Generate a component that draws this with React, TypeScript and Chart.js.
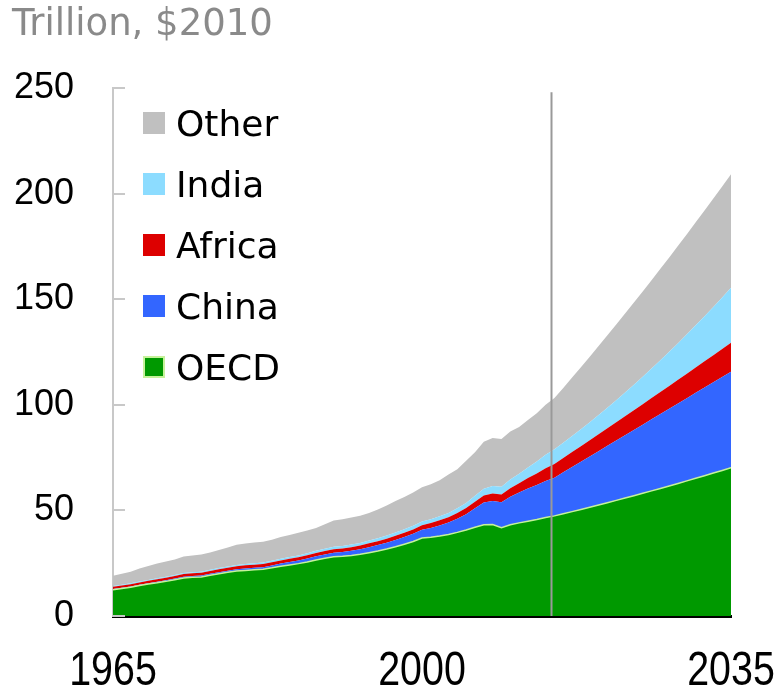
import { useEffect, useRef } from "react";
import { Chart, registerables } from "chart.js";

Chart.register(...registerables);

// ---- data (trillion, $2010) ----
const years = [
  1965, 1966, 1967, 1968, 1969, 1970, 1971, 1972, 1973, 1974, 1975,
  1976, 1977, 1978, 1979, 1980, 1981, 1982, 1983, 1984, 1985,
  1986, 1987, 1988, 1989, 1990, 1991, 1992, 1993, 1994, 1995,
  1996, 1997, 1998, 1999, 2000, 2001, 2002, 2003, 2004, 2005,
  2006, 2007, 2008, 2009, 2010, 2011, 2012, 2013, 2014, 2015,
  2016, 2017, 2018, 2019, 2020, 2021, 2022, 2023, 2024, 2025,
  2026, 2027, 2028, 2029, 2030, 2031, 2032, 2033, 2034, 2035,
];

const oecd = [
  12.4, 13.0, 13.6, 14.4, 15.1, 15.7, 16.4, 17.2, 18.0, 18.3, 18.5,
  19.3, 20.0, 20.7, 21.3, 21.6, 21.9, 22.1, 22.8, 23.6, 24.2,
  24.8, 25.6, 26.5, 27.3, 28.0, 28.3, 28.7, 29.2, 30.0, 30.8,
  31.7, 32.8, 34.0, 35.3, 36.9, 37.3, 37.9, 38.6, 39.6, 40.7,
  42.0, 43.2, 43.3, 41.8, 43.2, 44.1, 44.9, 45.7, 46.6, 47.4,
  48.41, 49.43, 50.46, 51.51, 52.58, 53.65, 54.74, 55.85, 56.97, 58.1,
  59.25, 60.41, 61.58, 62.77, 63.98, 65.19, 66.42, 67.67, 68.93, 70.2,
];

const china = [
  0.4, 0.4, 0.4, 0.4, 0.45, 0.5, 0.5, 0.55, 0.6, 0.6, 0.65,
  0.65, 0.7, 0.75, 0.8, 0.9, 0.9, 1.0, 1.1, 1.2, 1.35,
  1.45, 1.6, 1.75, 1.8, 1.9, 2.0, 2.2, 2.4, 2.6, 2.8,
  3.0, 3.2, 3.4, 3.6, 3.9, 4.4, 5.0, 5.7, 6.5, 7.5,
  9.0, 10.5, 11.2, 12.0, 13.3, 14.4, 15.5, 16.3, 17.3, 18.1,
  19.6, 21.09, 22.57, 24.03, 25.48, 26.91, 28.33, 29.73, 31.12, 32.5,
  33.86, 35.21, 36.55, 37.87, 39.18, 40.47, 41.75, 43.01, 44.26, 45.5,
];

const africa = [
  1.0, 1.0, 1.05, 1.1, 1.1, 1.15, 1.2, 1.2, 1.25, 1.3, 1.3,
  1.35, 1.4, 1.4, 1.45, 1.5, 1.5, 1.5, 1.5, 1.5, 1.55,
  1.55, 1.6, 1.6, 1.65, 1.7, 1.7, 1.7, 1.75, 1.8, 1.85,
  1.9, 2.0, 2.05, 2.1, 2.2, 2.3, 2.4, 2.5, 2.7, 2.9,
  3.1, 3.3, 3.5, 3.7, 4.0, 4.4, 4.9, 5.5, 6.1, 6.5,
  6.78, 7.08, 7.38, 7.68, 8.0, 8.32, 8.66, 9.0, 9.34, 9.7,
  10.06, 10.44, 10.82, 11.2, 11.6, 12.0, 12.42, 12.84, 13.26, 13.7,
];

const india = [
  0.4, 0.4, 0.42, 0.43, 0.45, 0.47, 0.48, 0.48, 0.5, 0.5, 0.55,
  0.56, 0.58, 0.62, 0.62, 0.65, 0.7, 0.72, 0.77, 0.8, 0.85,
  0.9, 0.94, 1.02, 1.08, 1.14, 1.15, 1.2, 1.26, 1.33, 1.4,
  1.48, 1.54, 1.6, 1.7, 1.75, 1.8, 1.9, 2.0, 2.2, 2.4,
  2.8, 3.3, 3.5, 3.7, 4.1, 4.5, 5.0, 5.6, 6.3, 7.0,
  7.29, 7.64, 8.07, 8.56, 9.13, 9.76, 10.47, 11.24, 12.09, 13.0,
  13.99, 15.04, 16.17, 17.36, 18.63, 19.96, 21.37, 22.84, 24.39, 26.0,
];

const other = [
  4.8, 5.2, 5.53, 6.17, 6.6, 6.98, 7.22, 7.37, 7.85, 8.0, 8.1,
  8.24, 8.52, 8.93, 9.53, 9.65, 9.8, 9.88, 9.93, 10.3, 10.45,
  10.7, 10.76, 10.83, 11.57, 12.46, 12.65, 12.8, 12.89, 13.07, 13.55,
  14.22, 14.96, 15.25, 15.8, 16.25, 16.6, 17.1, 18.2, 18.5, 20.0,
  20.6, 22.2, 22.8, 22.6, 22.7, 22.1, 22.5, 22.9, 23.7, 24.2,
  25.92, 27.66, 29.32, 31.02, 32.61, 34.26, 35.8, 37.38, 38.88, 40.4,
  41.84, 43.3, 44.68, 46.1, 47.41, 48.78, 50.04, 51.34, 52.56, 53.8,
];

const seriesLabels = ["OECD", "China", "Africa", "India", "Other"];
const seriesValues = [oecd, china, africa, india, other];
const seriesColors = ["#009900", "#3366ff", "#dd0000", "#8cdcff", "#c0c0c0"];

const xTickValues = [1965, 2000, 2035];
const yMin = 0;
const yMax = 250;
const yStep = 50;
const unitLabel = "Trillion, $2010";
const markerYear = 2014.6; // outlook divider
const markerTop = 248;

const W = 779;
const H = 687;

const overlay = {
  id: "overlay",
  afterDatasetsDraw(chart: any) {
    const { ctx, chartArea, scales } = chart;
    const xs = scales.x;
    const ys = scales.y;
    ctx.save();
    // divider line
    const mx = Math.round(xs.getPixelForValue(markerYear)) + 0.5;
    ctx.strokeStyle = "#999999";
    ctx.lineWidth = 2;
    ctx.beginPath();
    ctx.moveTo(mx, ys.getPixelForValue(markerTop));
    ctx.lineTo(mx, chartArea.bottom);
    ctx.stroke();
    // inward y tick stubs
    ctx.strokeStyle = "#c8c8c8";
    ctx.lineWidth = 2;
    ys.ticks.forEach((t: any) => {
      const py = Math.round(ys.getPixelForValue(t.value));
      ctx.beginPath();
      ctx.moveTo(chartArea.left, py);
      ctx.lineTo(chartArea.left + 12, py);
      ctx.stroke();
    });
    ctx.restore();
  },
  afterDraw(chart: any) {
    const { ctx, scales } = chart;
    ctx.save();
    // unit label
    ctx.font = '37px "DejaVu Sans", sans-serif';
    ctx.fillStyle = "#8a8a8a";
    ctx.textBaseline = "alphabetic";
    ctx.textAlign = "left";
    ctx.fillText(unitLabel, 12, 35);
    // condensed x tick labels
    const xs = scales.x;
    ctx.fillStyle = "#000000";
    ctx.font = '48px "Liberation Sans", Arial, sans-serif';
    ctx.textAlign = "center";
    xs.ticks.forEach((t: any) => {
      const px = xs.getPixelForValue(t.value);
      ctx.save();
      ctx.translate(px, 685);
      ctx.scale(0.82, 1);
      ctx.fillText(String(t.value), 0, 0);
      ctx.restore();
    });
    // legend (reverse order: top series first)
    ctx.textAlign = "left";
    const ds = chart.data.datasets;
    const box = 22;
    const lx = 143;
    const top0 = 112;
    const gap = 61;
    for (let k = 0; k < ds.length; k++) {
      const d = ds[ds.length - 1 - k];
      const y = top0 + k * gap;
      ctx.fillStyle = d.backgroundColor;
      ctx.fillRect(lx, y, box, box);
      if (d.label === "OECD") {
        ctx.strokeStyle = "#c6f29a";
        ctx.lineWidth = 2;
        ctx.strokeRect(lx + 1, y + 1, box - 2, box - 2);
      }
      ctx.fillStyle = "#000000";
      ctx.font = '36px "DejaVu Sans", sans-serif';
      ctx.fillText(d.label, 176, y + box / 2 + 13);
    }
    ctx.restore();
  },
};

export default function App() {
  const ref = useRef<HTMLCanvasElement | null>(null);

  useEffect(() => {
    document.body.style.margin = "0";
    const canvas = ref.current;
    if (!canvas) return;
    const datasets = seriesLabels.map((label, i) => ({
      label,
      data: years.map((yr, j) => ({ x: yr, y: seriesValues[i][j] })),
      backgroundColor: seriesColors[i],
      borderColor: i === 0 ? "#c6f29a" : "rgba(0,0,0,0)",
      borderWidth: i === 0 ? 1.5 : 0,
      pointRadius: 0,
      pointHoverRadius: 0,
      tension: 0,
      fill: i === 0 ? "origin" : "-1",
    }));

    const chart = new Chart(canvas, {
      type: "line",
      data: { datasets },
      plugins: [overlay],
      options: {
        responsive: false,
        animation: false,
        layout: { padding: { top: 88, right: 48, left: 0, bottom: 0 } },
        plugins: {
          legend: { display: false },
          tooltip: { enabled: false },
          title: { display: false },
        },
        scales: {
          x: {
            type: "linear",
            min: xTickValues[0],
            max: xTickValues[xTickValues.length - 1],
            afterBuildTicks: (s: any) => {
              s.ticks = xTickValues.map((v) => ({ value: v }));
            },
            afterFit: (s: any) => {
              s.height = 71;
              s.paddingLeft = 0;
              s.paddingRight = 0;
            },
            ticks: { display: false },
            grid: { display: true, drawOnChartArea: false, drawTicks: false },
            border: { display: true, color: "#000000", width: 3 },
          },
          y: {
            stacked: true,
            min: yMin,
            max: yMax,
            afterFit: (s: any) => {
              s.width = 113;
              s.paddingTop = 0;
              s.paddingBottom = 0;
            },
            ticks: {
              stepSize: yStep,
              padding: 39,
              color: "#000000",
              font: { family: '"Liberation Sans", Arial, sans-serif', size: 36 },
            },
            grid: { display: true, drawOnChartArea: false, drawTicks: false },
            border: { display: true, color: "#c8c8c8", width: 2 },
          },
        },
      },
    } as any);
    return () => chart.destroy();
  }, []);

  return (
    <div style={{ width: W, height: H }}>
      <canvas ref={ref} width={W} height={H} style={{ display: "block" }} />
    </div>
  );
}
